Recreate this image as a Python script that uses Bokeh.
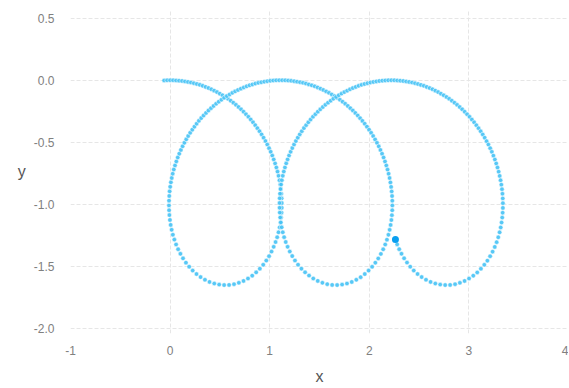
import numpy as np
from bokeh.plotting import figure
from bokeh.models import FixedTicker, Range1d
from bokeh.embed import file_html
from bokeh.resources import INLINE

# Curve: a looped trochoid (three loops hanging below y=0)
loop_radius = 0.825          # half of the loop depth (bottoms at about -1.65)
advance_per_turn = 1.11      # horizontal shift between successive loops
t_start = -0.06              # first point at about (-0.06, 0.0)
t_end = 16.69                # last (highlighted) point at about (2.26, -1.28)
n_points = 381               # dots: ~3px apart on the tops, ~5px on the bottoms
spacing_bias = 0.44          # how much closer the dots sit on the tops than on the bottoms

x_ticks = [-1, 0, 1, 2, 3, 4]
x_tick_labels = ["-1", "0", "1", "2", "3", "4"]
y_ticks = [-2.0, -1.5, -1.0, -0.5, 0.0, 0.5]
y_tick_labels = ["-2.0", "-1.5", "-1.0", "-0.5", "0.0", "0.5"]

# sample parameter: uniform in u = t + c*sin(t)  (denser near the tops)
c = spacing_bias
u = np.linspace(t_start + c * np.sin(t_start), t_end + c * np.sin(t_end), n_points)
t = u.copy()
for _ in range(50):
    t = t - (t + c * np.sin(t) - u) / (1 + c * np.cos(t))

a = advance_per_turn / (2 * np.pi)
xs = a * t + loop_radius * np.sin(t)
ys = loop_radius * np.cos(t) - loop_radius

p = figure(width=568, height=387, output_backend="svg", toolbar_location=None,
           x_range=Range1d(-1, 4), y_range=Range1d(-2.04, 0.57),
           min_border_top=9, min_border_right=0, min_border_left=70, min_border_bottom=0)
p.outline_line_color = None
p.background_fill_color = "white"
p.border_fill_color = "white"

p.xaxis.ticker = FixedTicker(ticks=x_ticks)
p.yaxis.ticker = FixedTicker(ticks=y_ticks)
p.xaxis.major_label_overrides = {v: s for v, s in zip(x_ticks, x_tick_labels)}
p.yaxis.major_label_overrides = {v: s for v, s in zip(y_ticks, y_tick_labels)}

for ax in (p.xaxis, p.yaxis):
    ax.axis_line_color = None
    ax.major_tick_line_color = None
    ax.minor_tick_line_color = None
    ax.major_label_text_color = "#808080"
    ax.major_label_text_font = "Liberation Sans"
    ax.major_label_text_font_size = "12px"
    ax.axis_label_text_font = "Liberation Sans"
    ax.axis_label_text_font_size = "16px"
    ax.axis_label_text_font_style = "normal"
    ax.axis_label_text_color = "#555555"

p.xaxis.axis_label = "x"
p.yaxis.axis_label = "y"
p.xaxis.major_label_standoff = 6
p.xaxis.axis_label_standoff = 10
p.yaxis.major_label_standoff = 10
p.yaxis.axis_label_standoff = 5
p.yaxis.axis_label_orientation = "horizontal"

for g in (p.xgrid, p.ygrid):
    g.grid_line_color = "#e6e6e6"
    g.grid_line_dash = "4 2"
    g.grid_line_width = 1

p.scatter(xs[:-1], ys[:-1], size=4.5, fill_color="#45c2f5", fill_alpha=0.9,
          line_color="white", line_width=0.5)
p.scatter(xs[-1:], ys[-1:], size=7, fill_color="#0a9ff0", line_color=None)

open("out.html", "w").write(file_html(p, INLINE))
